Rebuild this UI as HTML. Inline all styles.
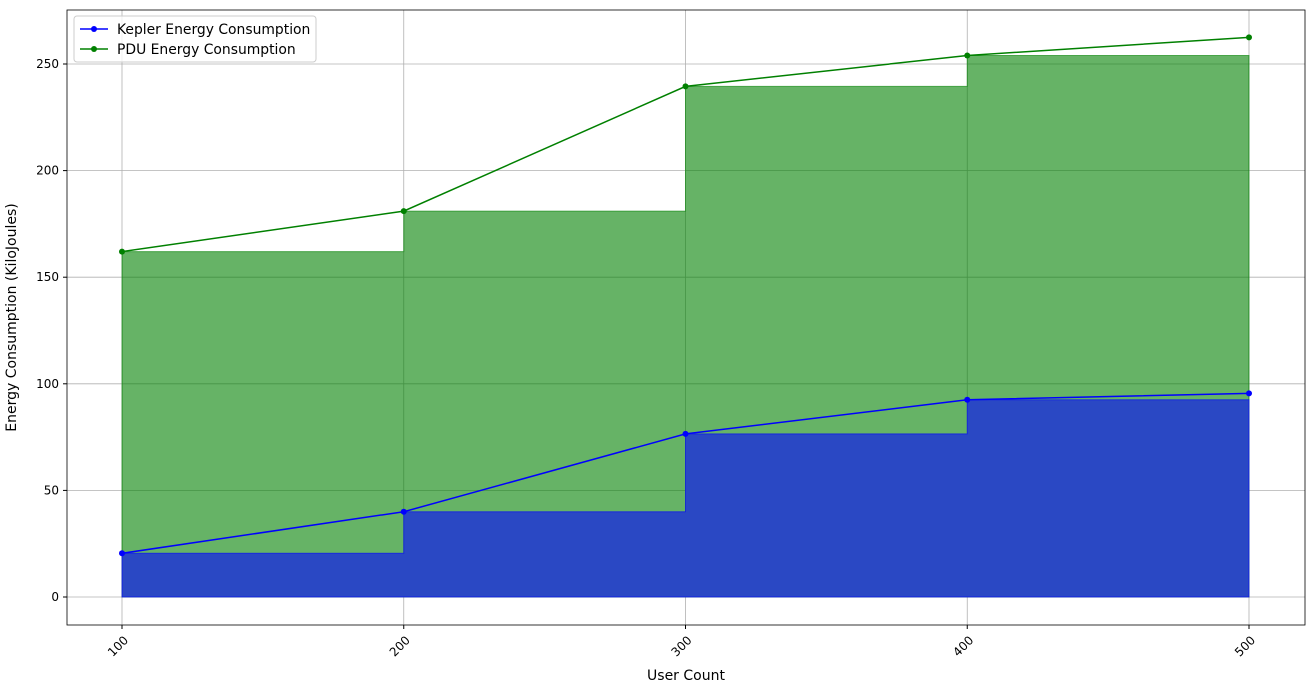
<!DOCTYPE html>
<html><head><meta charset="utf-8"><style>
body{margin:0;background:#fff;}
svg{font-family:"DejaVu Sans","Liberation Sans",sans-serif;}
</style></head><body>
<svg id="chart" width="1315" height="693"></svg>
<script>
const categories=[100,200,300,400,500];
const keplerValues=[20.5,40,76.5,92.5,95.5];
const pduValues=[162,181,239.5,254,262.5];
const yTickLabels=[0,50,100,150,200,250];
const L=67,R=1305,T=10,B=625;
const xs=v=>122+(v-100)*(1249-122)/400;
const ys=v=>597-v*(597-64)/250;
const svg=document.getElementById('chart');
const NS='http://www.w3.org/2000/svg';
function mk(tag,attrs,parent){const e=document.createElementNS(NS,tag);for(const k in attrs)e.setAttribute(k,attrs[k]);(parent||svg).appendChild(e);return e;}
yTickLabels.forEach(v=>{const g=mk('line',{x1:L,x2:R,y1:ys(v),y2:ys(v),stroke:'#b0b0b0','stroke-width':0.8});

});
categories.forEach(v=>{const g=mk('line',{x1:xs(v),x2:xs(v),y1:T,y2:B,stroke:'#b0b0b0','stroke-width':0.8});

});
function stepPath(vals){let d=`M${xs(categories[0])},${ys(0)}`;
for(let i=0;i<categories.length-1;i++){d+=` L${xs(categories[i])},${ys(vals[i])} L${xs(categories[i+1])},${ys(vals[i])}`;}
const n=categories.length-1;d+=` L${xs(categories[n])},${ys(vals[n-1])} L${xs(categories[n])},${ys(0)} Z`;return d;}
const pf=mk('path',{d:stepPath(pduValues),fill:'rgba(0,128,0,0.6)',stroke:'rgba(0,128,0,0.6)','stroke-width':1});


const kf=mk('path',{d:stepPath(keplerValues),fill:'#2a48c4',stroke:'rgba(0,0,255,0.6)','stroke-width':1});


function line(vals,color,name){
const pts=vals.map((v,i)=>`${xs(categories[i])},${ys(v)}`).join(' ');
const pl=mk('polyline',{points:pts,fill:'none',stroke:color,'stroke-width':1.5});


vals.forEach((v,i)=>{const c=mk('circle',{cx:xs(categories[i]),cy:ys(v),r:3,fill:color});

});}
line(keplerValues,'#0000ff','kepler');
line(pduValues,'#008000','pdu');
const fr=mk('rect',{x:L,y:T,width:R-L,height:B-T,fill:'none',stroke:'#000','stroke-width':0.8});


yTickLabels.forEach(v=>{mk('line',{x1:L-4,x2:L,y1:ys(v),y2:ys(v),stroke:'#000'});
const t=mk('text',{x:L-8,y:ys(v)+4,'text-anchor':'end','font-size':12});t.textContent=v;

});
categories.forEach(v=>{mk('line',{x1:xs(v),x2:xs(v),y1:B,y2:B+4,stroke:'#000'});
const ax=xs(v)+7,ay=B+16;
const t=mk('text',{x:ax,y:ay,'text-anchor':'end','font-size':12,transform:`rotate(-45 ${ax} ${ay})`});t.textContent=v;

});
const xt=mk('text',{x:(L+R)/2,y:680,'text-anchor':'middle','font-size':14});xt.textContent='User Count';


const yt=mk('text',{x:16,y:(T+B)/2,'text-anchor':'middle','font-size':14,transform:`rotate(-90 16 ${(T+B)/2})`});yt.textContent='Energy Consumption (KiloJoules)';


const lg=mk('g',{});


mk('rect',{x:74,y:16,width:242,height:46,rx:3,fill:'#fff','fill-opacity':0.8,stroke:'#ccc'},lg);
[['Kepler Energy Consumption','#0000ff',29],['PDU Energy Consumption','#008000',49]].forEach(([lab,c,y])=>{
const e=mk('g',{},lg);


mk('line',{x1:80,x2:108,y1:y,y2:y,stroke:c,'stroke-width':1.5},e);
mk('circle',{cx:94,cy:y,r:3,fill:c},e);
const t=mk('text',{x:117,y:y+5,'font-size':13.9},e);t.textContent=lab;});
</script>
</body></html>
